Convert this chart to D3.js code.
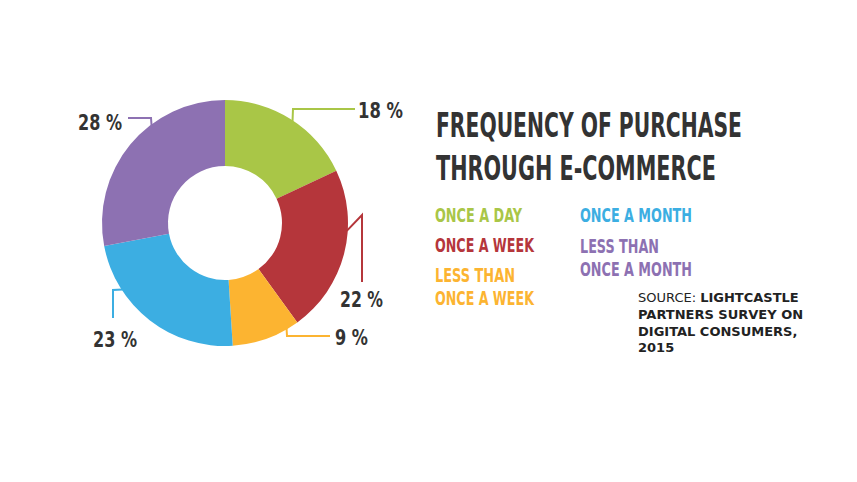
<!DOCTYPE html>
<html>
<head>
<meta charset="utf-8">
<script src="https://cdn.jsdelivr.net/npm/d3@7"></script>
<style>
  body { margin: 0; background: #fff; }
  svg { display: block; }
</style>
</head>
<body>
<div id="chart"></div>
<script>
// chart values
const categories = ["Once a day", "Once a week", "Less than once a week", "Once a month", "Less than once a month"]
const shares = [18, 22, 9, 23, 28]
const colors = ["#a9c647", "#b5363b", "#fcb431", "#3caee2", "#8d71b2"]
const legendLines = [["ONCE A DAY"], ["ONCE A WEEK"], ["LESS THAN", "ONCE A WEEK"], ["ONCE A MONTH"], ["LESS THAN", "ONCE A MONTH"]]
const titleLines = ["FREQUENCY OF PURCHASE", "THROUGH E-COMMERCE"]
const sourceLines = ["LIGHTCASTLE", "PARTNERS SURVEY ON", "DIGITAL CONSUMERS,", "2015"]

const width = 857, height = 482
const cx = 225, cy = 223, outerR = 123, innerR = 57
const ink = "#333333"
const cond = "'DejaVu Sans Condensed', 'Liberation Sans Narrow', sans-serif"

// the original face is a narrow condensed bold: squeeze each text horizontally to its width
function fit(sel, x, y, w) {
  const natural = sel.node().getComputedTextLength()
  const k = Math.min(1, w / natural)
  sel.attr("x", 0).attr("y", 0)
    .attr("transform", `translate(${x},${y}) scale(${k},1)`)
}

// leader lines: attach angle (deg, clockwise from top), then elbow points and label spot relative to centre
const leaders = [
  {deg: 33.6, pts: [[68, -114], [130, -114]], tx: 133, ty: -105, w: 45},
  {deg: 93.7, pts: [[137, -8], [137, 59]], tx: 115, ty: 84, w: 43},
  {deg: 149.7, pts: [[62, 113], [105, 113]], tx: 110, ty: 122, w: 33},
  {deg: 236.9, pts: [[-112, 67], [-112, 95]], tx: -132, ty: 124, w: 44},
  {deg: 323, pts: [[-74, -105], [-97, -105]], tx: -147, ty: -93, w: 44}
]

const svg = d3.select("#chart").append("svg")
  .attr("width", width)
  .attr("height", height)

const pie = d3.pie().sort(null).value(d => d)
const arc = d3.arc().innerRadius(innerR).outerRadius(outerR)
const color = d3.scaleOrdinal().domain(categories).range(colors)

const g = svg.append("g").attr("transform", `translate(${cx},${cy})`)

const arcs = pie(shares)

g.selectAll("path.slice")
  .data(arcs)
  .enter()
  .append("path")
  .attr("class", "slice")
  .attr("d", arc)
  .attr("fill", (d, i) => color(categories[i]))

const line = d3.line()
g.selectAll("path.leader")
  .data(arcs)
  .enter()
  .append("path")
  .attr("class", "leader")
  .attr("d", (d, i) => {
    const a = leaders[i].deg * Math.PI / 180
    const start = [Math.sin(a) * (outerR - 1), -Math.cos(a) * (outerR - 1)]
    return line([start].concat(leaders[i].pts))
  })
  .attr("fill", "none")
  .attr("stroke", (d, i) => color(categories[i]))
  .attr("stroke-width", 2)

g.selectAll("text.pct")
  .data(arcs)
  .enter()
  .append("text")
  .attr("class", "pct")
  .attr("font-family", cond)
  .attr("font-weight", "bold")
  .attr("font-size", 21)
  .attr("fill", ink)
  .text(d => d.data + " %")
  .each(function(d, i) { fit(d3.select(this), leaders[i].tx, leaders[i].ty, leaders[i].w) })

// title
const titleW = [306, 280]
svg.append("g").selectAll("text")
  .data(titleLines)
  .enter()
  .append("text")
  .attr("font-family", cond)
  .attr("font-weight", "bold")
  .attr("font-size", 33)
  .attr("fill", ink)
  .text(d => d)
  .each(function(d, i) { fit(d3.select(this), 436, 137 + i * 43, titleW[i]) })

// legend, two columns
const legendPos = [[435, 222], [435, 252], [435, 282], [580, 222], [580, 253]]
const legendW = [[87], [99], [80, 99], [112], [79, 112]]
const legend = svg.append("g")
legendLines.forEach((lines, i) => {
  lines.forEach((t, j) => {
    const txt = legend.append("text")
      .attr("font-family", cond)
      .attr("font-weight", "bold")
      .attr("font-size", 20)
      .attr("fill", color(categories[i]))
      .text(t)
    fit(txt, legendPos[i][0], legendPos[i][1] + j * 23, legendW[i][j])
  })
})

// source note
const source = svg.append("g")
  .attr("font-family", "'DejaVu Sans', Verdana, sans-serif")
  .attr("font-size", 13)
  .attr("fill", "#222")
const first = source.append("text").attr("x", 638).attr("y", 302)
first.append("tspan").text("SOURCE: ")
first.append("tspan").attr("font-weight", "bold").text(sourceLines[0])
sourceLines.slice(1).forEach((t, i) => {
  source.append("text")
    .attr("x", 638)
    .attr("y", 302 + (i + 1) * 16.8)
    .attr("font-weight", "bold")
    .text(t)
})
</script>
</body>
</html>
